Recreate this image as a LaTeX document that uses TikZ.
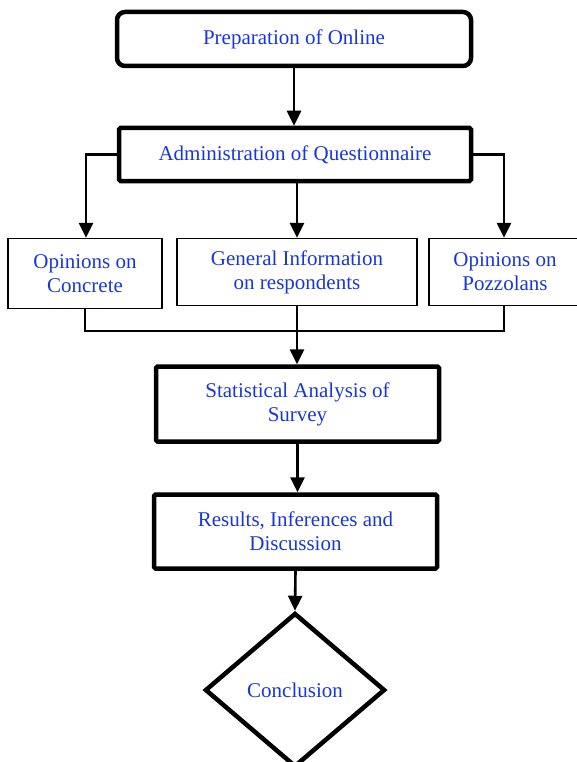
\documentclass[tikz,border=0pt]{standalone}
\usepackage{fontspec}
\setmainfont{Liberation Serif}
\usetikzlibrary{shapes.geometric,arrows.meta}
\definecolor{txtblue}{RGB}{25,55,215}
\begin{document}
\begin{tikzpicture}[x=1pt,y=-1pt,
  every node/.style={font=\fontsize{21}{24}\selectfont, text=txtblue, align=center, inner sep=0pt},
  thickbox/.style={draw, line width=4.5pt, rounded corners=1.5pt},
  roundbox/.style={draw, line width=4.5pt, rounded corners=8pt},
  thinbox/.style={draw, line width=1.4pt},
  conn/.style={line width=2.6pt},
  arr/.style={conn, -{Triangle[length=15pt,width=14pt]}}]
\useasboundingbox (0,0) rectangle (577,762);
\node[roundbox, minimum width=354, minimum height=54] (prep) at (294,39) {Preparation of Online};
\node[thickbox, minimum width=352, minimum height=53] (admin) at (295,154.5) {Administration of Questionnaire};
\node[thinbox, minimum width=154, minimum height=70] (conc) at (85,273.5) {Opinions on\\Concrete};
\node[thinbox, minimum width=240, minimum height=67] (gen) at (297,272) {General Information\\on respondents};
\node[thinbox, minimum width=152, minimum height=67] (pozz) at (505,272) {Opinions on\\Pozzolans};
\node[thickbox, minimum width=283, minimum height=75] (stat) at (297.5,404) {Statistical Analysis of\\Survey};
\node[thickbox, minimum width=283, minimum height=74] (res) at (295.5,531.5) {Results, Inferences and\\Discussion};
\node[draw, diamond, line width=4.5pt, minimum width=180, minimum height=154] (concl) at (295,690) {Conclusion};
\coordinate (busL) at (85,331);
\coordinate (busR) at (504,331);
\coordinate (bendL) at (86,154.5);
\coordinate (bendR) at (504,154.5);
\draw[arr] (prep.south) -- (admin.north -| prep.south);
\draw[arr] (admin.west) -- (bendL) -- (bendL |- conc.north);
\draw[arr] (admin.east) -- (bendR) -- (bendR |- pozz.north);
\draw[arr] (admin.south -| gen.north) -- (gen.north);
\draw[conn] (conc.south) -- (busL) -- (busR) -- (busR |- pozz.south);
\draw[arr] (gen.south) -- (stat.north -| gen.south);
\draw[arr] (stat.south) -- (res.north -| stat.south);
\draw[arr] (res.south) -- (concl.north);
\end{tikzpicture}
\end{document}
